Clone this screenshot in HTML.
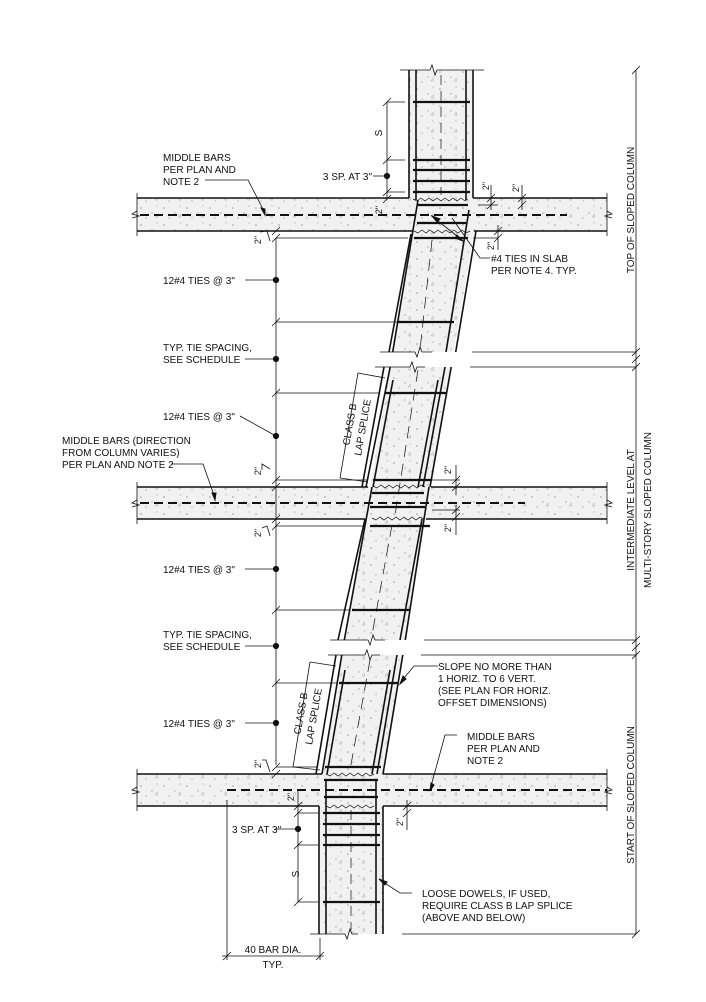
<!DOCTYPE html>
<html><head><meta charset="utf-8"><style>
html,body{margin:0;padding:0;background:#fff}
svg{display:block}
text{font-family:"Liberation Sans",Arial,sans-serif;font-size:10px;fill:#111}
</style></head><body>
<svg width="706" height="1002" viewBox="0 0 706 1002" xmlns="http://www.w3.org/2000/svg">
<defs>
<pattern id="conc" width="23" height="17" patternUnits="userSpaceOnUse">
<rect width="23" height="17" fill="#f1f1f1"/>
<circle cx="3" cy="4" r="0.8" fill="#999"/><circle cx="14" cy="9" r="0.7" fill="#aaa"/>
<circle cx="8" cy="14" r="0.6" fill="#999"/><circle cx="19" cy="2" r="0.6" fill="#aaa"/>
<path d="M17 13 l2 -3 l1 3z" fill="none" stroke="#aaa" stroke-width="0.5"/>
</pattern>
</defs>
<g stroke="#111" fill="none" stroke-width="1">
<!-- slabs -->
<rect x="137" y="198" width="470" height="33" fill="url(#conc)" stroke="none"/>
<rect x="137" y="487" width="470" height="32" fill="url(#conc)" stroke="none"/>
<rect x="137" y="774" width="470" height="32" fill="url(#conc)" stroke="none"/>
<!-- columns fill -->
<rect x="409" y="70" width="64" height="130" fill="url(#conc)" stroke="none"/>
<polygon points="413,231 474,231 453.7,352 392.7,352" fill="url(#conc)" stroke="none"/>
<polygon points="390.2,367 451.2,367 426,519 364.6,519" fill="url(#conc)" stroke="none"/>
<polygon points="364.6,519 425.6,519 405.3,640 344.3,640" fill="url(#conc)" stroke="none"/>
<polygon points="341.8,655 402.8,655 383,774 322,774" fill="url(#conc)" stroke="none"/>
<polygon points="413,198 474,198 474,231 413,231" fill="url(#conc)" stroke="none"/>
<rect x="319" y="774" width="64" height="160" fill="url(#conc)" stroke="none"/>

<!-- slab edges -->
<g stroke-width="1.6">
<line x1="137" y1="198" x2="409" y2="198"/><line x1="473" y1="198" x2="607" y2="198"/>
<line x1="137" y1="231" x2="413" y2="231"/><line x1="474" y1="231" x2="607" y2="231"/>
<line x1="137" y1="487" x2="368" y2="487"/><line x1="431" y1="487" x2="607" y2="487"/>
<line x1="137" y1="519" x2="365" y2="519"/><line x1="426" y1="519" x2="607" y2="519"/>
<line x1="137" y1="774" x2="322" y2="774"/><line x1="383" y1="774" x2="607" y2="774"/>
<line x1="137" y1="806" x2="319" y2="806"/><line x1="383" y1="806" x2="607" y2="806"/>
</g>
<g stroke-width="0.8">
<line x1="137" y1="193" x2="137" y2="236"/><line x1="607" y1="193" x2="607" y2="236"/>
<line x1="137" y1="482" x2="137" y2="524"/><line x1="607" y1="482" x2="607" y2="524"/>
<line x1="137" y1="769" x2="137" y2="811"/><line x1="607" y1="769" x2="607" y2="811"/>
<path d="M137 211 l-5 3 l7 2 l-7 2"/><path d="M607 211 l5 3 l-7 2 l7 2"/>
<path d="M137 500 l-5 3 l7 2 l-7 2"/><path d="M607 500 l5 3 l-7 2 l7 2"/>
<path d="M137 787 l-5 3 l7 2 l-7 2"/><path d="M607 787 l5 3 l-7 2 l7 2"/>
</g>
<!-- dashed middle bars -->
<g stroke-width="2" stroke-dasharray="9,5">
<line x1="140" y1="215" x2="567" y2="215"/>
<line x1="140" y1="503" x2="525" y2="503"/>
<line x1="227" y1="790" x2="607" y2="790"/>
</g>

<!-- top vertical column -->
<g stroke-width="1.6">
<line x1="409" y1="70" x2="409" y2="198"/><line x1="473" y1="70" x2="473" y2="198"/>
<line x1="416" y1="70" x2="416" y2="200"/><line x1="466" y1="70" x2="466" y2="200"/>
</g>
<line x1="400" y1="70" x2="430" y2="70" stroke-width="0.8"/><line x1="443" y1="70" x2="484" y2="70" stroke-width="0.8"/>
<path d="M430 70 l2 -5 l3 10 l2 -5 h6" stroke-width="0.8"/>
<line x1="441" y1="75" x2="441" y2="195" stroke-dasharray="10,6" stroke-width="0.7"/>
<g stroke-width="2.2">
<line x1="413" y1="102" x2="470" y2="102"/>
<line x1="413" y1="160" x2="470" y2="160"/><line x1="413" y1="170" x2="470" y2="170"/>
<line x1="413" y1="181" x2="470" y2="181"/><line x1="413" y1="192" x2="470" y2="192"/>
<line x1="418" y1="205" x2="468" y2="205"/><line x1="417" y1="223" x2="466" y2="223"/>
<line x1="414" y1="238" x2="468" y2="238"/>
</g>
<path d="M413 199 l4 2 l4 -3 l4 3 l4 -3 l4 3 l4 -3 l4 3 l4 -3 l4 3 l4 -3 l4 3 l4 -3 l4 3 l3 -2" stroke-width="0.7"/>
<path d="M414 231 l4 2 l4 -3 l4 3 l4 -3 l4 3 l4 -3 l4 3 l4 -3 l4 3 l4 -3 l4 3 l4 -3 l4 3 l4 -2" stroke-width="0.7"/>

<!-- sloped column lines -->
<g stroke-width="1.6">
<line x1="418" y1="200" x2="392.7" y2="352"/><line x1="476" y1="231" x2="455.7" y2="352"/>
<line x1="411" y1="234" x2="389" y2="352"/><line x1="469" y1="210" x2="446" y2="352"/>
<line x1="390.2" y1="367" x2="366" y2="487"/><line x1="451.2" y1="367" x2="430" y2="487"/>
<line x1="384" y1="367" x2="362" y2="487"/><line x1="445" y1="367" x2="423" y2="487"/>
<line x1="393" y1="380" x2="373" y2="487"/><line x1="438" y1="380" x2="418" y2="487"/>
<line x1="372" y1="487" x2="344.3" y2="640"/><line x1="429" y1="487" x2="405.3" y2="640"/>
<line x1="365" y1="519" x2="338" y2="640"/><line x1="422" y1="519" x2="400" y2="640"/>
<line x1="341.8" y1="655" x2="322" y2="774"/><line x1="402.8" y1="655" x2="383" y2="774"/>
<line x1="336" y1="655" x2="316" y2="774"/><line x1="397" y1="655" x2="377" y2="774"/>
<line x1="345" y1="670" x2="327" y2="774"/><line x1="390" y1="670" x2="372" y2="774"/>
</g>
<g stroke-width="0.7" stroke-dasharray="12,7">
<line x1="432" y1="240" x2="420" y2="350"/><line x1="418" y1="370" x2="395" y2="515"/>
<line x1="392" y1="525" x2="372" y2="635"/><line x1="370" y1="660" x2="350" y2="770"/>
</g>
<g stroke-width="2.2">
<line x1="398" y1="322" x2="454" y2="322"/>
<line x1="385" y1="393" x2="447" y2="393"/>
<line x1="373" y1="480" x2="431" y2="480"/><line x1="372" y1="493" x2="424" y2="493"/>
<line x1="370" y1="507" x2="425" y2="507"/><line x1="370" y1="526" x2="430" y2="526"/>
<line x1="352" y1="610" x2="410" y2="610"/>
<line x1="339" y1="683" x2="398" y2="683"/>
<line x1="325" y1="767" x2="381" y2="767"/><line x1="324" y1="780" x2="378" y2="780"/>
<line x1="324" y1="797" x2="378" y2="797"/>
</g>
<path d="M373 486 l4 2 l4 -3 l4 3 l4 -3 l4 3 l4 -3 l4 3 l4 -3 l4 3 l4 -3 l4 3 l4 -3 l4 2" stroke-width="0.7"/>
<path d="M372 518 l4 2 l4 -3 l4 3 l4 -3 l4 3 l4 -3 l4 3 l4 -3 l4 3 l4 -3 l4 3 l4 -3 l4 2" stroke-width="0.7"/>
<path d="M326 774 l4 2 l4 -3 l4 3 l4 -3 l4 3 l4 -3 l4 3 l4 -3 l4 3 l4 -3 l4 3 l4 -2" stroke-width="0.7"/>
<path d="M326 806 l4 2 l4 -3 l4 3 l4 -3 l4 3 l4 -3 l4 3 l4 -3 l4 3 l4 -3 l4 3 l4 -2" stroke-width="0.7"/>

<!-- breaks -->
<g stroke-width="0.8">
<line x1="380" y1="352" x2="415" y2="352"/><path d="M415 352 l2 5 l3 -10 l2 5 h10"/><line x1="472" y1="352" x2="636" y2="352"/>
<line x1="375" y1="367" x2="410" y2="367"/><path d="M410 367 l2 -5 l3 10 l2 -5 h8"/><line x1="470" y1="367" x2="636" y2="367"/>
<line x1="330" y1="640" x2="368" y2="640"/><path d="M368 640 l2 5 l3 -10 l2 5 h10"/><line x1="424" y1="640" x2="636" y2="640"/>
<line x1="328" y1="655" x2="365" y2="655"/><path d="M365 655 l2 -5 l3 10 l2 -5 h8"/><line x1="421" y1="655" x2="636" y2="655"/>
<line x1="310" y1="934" x2="345" y2="934"/><path d="M345 934 l2 5 l3 -10 l2 5 h6"/><line x1="402" y1="934" x2="636" y2="934"/>
</g>

<!-- bottom vertical column -->
<g stroke-width="1.6">
<line x1="319" y1="806" x2="319" y2="934"/><line x1="383" y1="806" x2="383" y2="934"/>
<line x1="326" y1="780" x2="326" y2="934"/><line x1="376" y1="780" x2="376" y2="934"/>
</g>
<line x1="351" y1="810" x2="351" y2="930" stroke-dasharray="10,6" stroke-width="0.7"/>
<g stroke-width="2.2">
<line x1="323" y1="813" x2="380" y2="813"/><line x1="323" y1="824" x2="380" y2="824"/>
<line x1="323" y1="835" x2="380" y2="835"/><line x1="323" y1="845" x2="380" y2="845"/>
<line x1="323" y1="902" x2="380" y2="902"/>
</g>

<!-- right dimension -->
<line x1="636" y1="70" x2="636" y2="934" stroke-width="0.8"/>
<g stroke-width="0.8">
<line x1="632" y1="74" x2="640" y2="66"/><line x1="632" y1="356" x2="640" y2="348"/>
<line x1="632" y1="371" x2="640" y2="363"/><line x1="632" y1="644" x2="640" y2="636"/>
<line x1="632" y1="659" x2="640" y2="651"/><line x1="632" y1="938" x2="640" y2="930"/>
<line x1="632" y1="363" x2="640" y2="355"/><line x1="632" y1="651" x2="640" y2="643"/>
</g>

<!-- left dimension -->
<line x1="276" y1="238" x2="276" y2="765" stroke-width="0.8"/>
<g stroke-width="0.8">
<line x1="276" y1="238" x2="408" y2="238"/><line x1="276" y1="322" x2="398" y2="322"/>
<line x1="276" y1="393" x2="380" y2="393"/><line x1="276" y1="480" x2="368" y2="480"/>
<line x1="276" y1="526" x2="365" y2="526"/><line x1="276" y1="610" x2="350" y2="610"/>
<line x1="276" y1="683" x2="338" y2="683"/><line x1="276" y1="767" x2="318" y2="767"/>
<line x1="272" y1="242" x2="280" y2="234"/><line x1="272" y1="235" x2="280" y2="227"/>
<line x1="272" y1="326" x2="280" y2="318"/><line x1="272" y1="397" x2="280" y2="389"/>
<line x1="272" y1="484" x2="280" y2="476"/><line x1="272" y1="491" x2="280" y2="483"/>
<line x1="272" y1="523" x2="280" y2="515"/><line x1="272" y1="530" x2="280" y2="522"/>
<line x1="272" y1="614" x2="280" y2="606"/><line x1="272" y1="687" x2="280" y2="679"/>
<line x1="272" y1="771" x2="280" y2="763"/><line x1="272" y1="778" x2="280" y2="770"/>
<path d="M260 232 l7 -1 l3 10"/><path d="M262 528 l5 -2 l3 10"/><path d="M262 470 l0 -6 l8 5"/>
<path d="M262 760 l4 0 l4 12"/>
<!-- top column dim -->
<line x1="387" y1="102" x2="387" y2="198"/>
<line x1="387" y1="102" x2="405" y2="102"/><line x1="387" y1="160" x2="405" y2="160"/><line x1="387" y1="192" x2="405" y2="192"/>
<line x1="383" y1="106" x2="391" y2="98"/><line x1="383" y1="164" x2="391" y2="156"/>
<line x1="383" y1="196" x2="391" y2="188"/><line x1="383" y1="203" x2="391" y2="195"/>
<!-- top right small dims -->
<line x1="478" y1="198" x2="498" y2="198"/><line x1="478" y1="205" x2="498" y2="205"/>
<line x1="491" y1="185" x2="491" y2="210"/><line x1="487" y1="202" x2="495" y2="194"/><line x1="487" y1="209" x2="495" y2="201"/>
<line x1="522" y1="185" x2="522" y2="210"/><line x1="518" y1="202" x2="526" y2="194"/><line x1="518" y1="209" x2="526" y2="201"/>
<line x1="473" y1="238" x2="498" y2="238"/><line x1="498" y1="225" x2="498" y2="250"/>
<line x1="494" y1="235" x2="502" y2="227"/><line x1="494" y1="242" x2="502" y2="234"/>
<!-- mid right small dims -->
<line x1="430" y1="480" x2="460" y2="480"/><line x1="456" y1="465" x2="456" y2="495"/>
<line x1="452" y1="484" x2="460" y2="476"/><line x1="452" y1="491" x2="460" y2="483"/>
<line x1="432" y1="510" x2="460" y2="510"/><line x1="456" y1="505" x2="456" y2="535"/>
<line x1="452" y1="514" x2="460" y2="506"/><line x1="452" y1="521" x2="460" y2="513"/>
<!-- bottom dims -->
<line x1="298" y1="790" x2="298" y2="902"/>
<line x1="298" y1="813" x2="318" y2="813"/><line x1="298" y1="845" x2="318" y2="845"/><line x1="298" y1="902" x2="318" y2="902"/>
<line x1="294" y1="810" x2="302" y2="802"/><line x1="294" y1="817" x2="302" y2="809"/>
<line x1="294" y1="849" x2="302" y2="841"/><line x1="294" y1="906" x2="302" y2="898"/>
<line x1="407" y1="800" x2="407" y2="830"/><line x1="403" y1="810" x2="411" y2="802"/><line x1="403" y1="817" x2="411" y2="809"/>
<line x1="227" y1="800" x2="227" y2="960"/><line x1="320" y1="938" x2="320" y2="960"/>
<line x1="222" y1="956" x2="324" y2="956"/>
<line x1="223" y1="960" x2="231" y2="952"/><line x1="316" y1="960" x2="324" y2="952"/>
<!-- lap splice dims -->
<line x1="358" y1="373" x2="340" y2="478"/><line x1="358" y1="373" x2="385" y2="378"/><line x1="340" y1="478" x2="368" y2="482"/>
<line x1="310" y1="662" x2="293" y2="767"/><line x1="310" y1="662" x2="336" y2="666"/><line x1="293" y1="767" x2="320" y2="770"/>
<!-- leaders -->
<polyline points="205,180 248,180 265,213"/>
<polyline points="452,218 480,258 490,258"/>
<line x1="433" y1="217" x2="462" y2="240"/>
<polyline points="171,464 203,464 215,498"/>
<polyline points="245,280 276,280"/><polyline points="245,359 276,359"/><polyline points="240,416 276,436"/>
<polyline points="245,569 276,569"/><polyline points="245,646 276,646"/><polyline points="245,723 276,723"/>
<polyline points="373,176 387,176"/>
<polyline points="275,829 298,829"/>
<polyline points="438,666 414,666 400,683"/>
<polyline points="457,735 445,735 430,790"/>
<polyline points="412,893 400,893 380,880"/>
</g>
<g fill="#111">
<circle cx="387" cy="176" r="2.6"/><circle cx="276" cy="280" r="2.6"/><circle cx="276" cy="359" r="2.6"/>
<circle cx="276" cy="436" r="2.6"/><circle cx="276" cy="569" r="2.6"/><circle cx="276" cy="646" r="2.6"/>
<circle cx="276" cy="723" r="2.6"/><circle cx="298" cy="829" r="2.6"/>
<path d="M265 215 l-4 -7 l4 1z"/><path d="M215 500 l-3 -7 l4 0z"/><path d="M430 791 l1 -8 l3 2z"/>
<path d="M400 684 l3 -8 l3 3z"/><path d="M379 879 l8 3 l-2 3z"/><path d="M463 241 l-8 -3 l2 -3z"/><path d="M432 216 l8 3 l-3 3z"/>
</g>
</g>

<!-- text -->
<text x="163" y="161">MIDDLE BARS</text><text x="163" y="173">PER PLAN AND</text><text x="163" y="185">NOTE 2</text>
<text x="372" y="180" text-anchor="end">3 SP. AT 3"</text>
<text x="379" y="136" transform="rotate(-90 379 133)" text-anchor="middle">S</text>
<text x="491" y="262">#4 TIES IN SLAB</text><text x="491" y="274">PER NOTE 4. TYP.</text>
<text x="163" y="284">12#4 TIES @ 3"</text>
<text x="163" y="351">TYP. TIE SPACING,</text><text x="163" y="363">SEE SCHEDULE</text>
<text x="163" y="420">12#4 TIES @ 3"</text>
<text x="62" y="444">MIDDLE BARS (DIRECTION</text><text x="62" y="456">FROM COLUMN VARIES)</text><text x="62" y="468">PER PLAN AND NOTE 2</text>
<text x="163" y="573">12#4 TIES @ 3"</text>
<text x="163" y="638">TYP. TIE SPACING,</text><text x="163" y="650">SEE SCHEDULE</text>
<text x="163" y="727">12#4 TIES @ 3"</text>
<text x="438" y="670">SLOPE NO MORE THAN</text><text x="438" y="682">1 HORIZ. TO 6 VERT.</text>
<text x="438" y="694">(SEE PLAN FOR HORIZ.</text><text x="438" y="706">OFFSET DIMENSIONS)</text>
<text x="467" y="740">MIDDLE BARS</text><text x="467" y="752">PER PLAN AND</text><text x="467" y="764">NOTE 2</text>
<text x="232" y="833">3 SP. AT 3"</text>
<text x="296" y="877" transform="rotate(-90 296 874)" text-anchor="middle">S</text>
<text x="422" y="897">LOOSE DOWELS, IF USED,</text><text x="422" y="909">REQUIRE CLASS B LAP SPLICE</text><text x="422" y="921">(ABOVE AND BELOW)</text>
<text x="273" y="953" text-anchor="middle">40 BAR DIA.</text><text x="273" y="968" text-anchor="middle">TYP.</text>
<text transform="translate(353,425) rotate(-80)" text-anchor="middle">CLASS B</text>
<text transform="translate(366,428) rotate(-80)" text-anchor="middle">LAP SPLICE</text>
<text transform="translate(304,714) rotate(-80)" text-anchor="middle">CLASS B</text>
<text transform="translate(317,717) rotate(-80)" text-anchor="middle">LAP SPLICE</text>
<g font-size="9">
<text transform="translate(382,210) rotate(-90)" text-anchor="middle" style="font-size:9px">2"</text>
<text transform="translate(489,186) rotate(-90)" text-anchor="middle" style="font-size:9px">2"</text>
<text transform="translate(519,188) rotate(-90)" text-anchor="middle" style="font-size:9px">2"</text>
<text transform="translate(494,246) rotate(-90)" text-anchor="middle" style="font-size:9px">2"</text>
<text transform="translate(261,240) rotate(-90)" text-anchor="middle" style="font-size:9px">2"</text>
<text transform="translate(261,471) rotate(-90)" text-anchor="middle" style="font-size:9px">2"</text>
<text transform="translate(261,533) rotate(-90)" text-anchor="middle" style="font-size:9px">2"</text>
<text transform="translate(451,470) rotate(-90)" text-anchor="middle" style="font-size:9px">2"</text>
<text transform="translate(451,528) rotate(-90)" text-anchor="middle" style="font-size:9px">2"</text>
<text transform="translate(261,764) rotate(-90)" text-anchor="middle" style="font-size:9px">2"</text>
<text transform="translate(294,797) rotate(-90)" text-anchor="middle" style="font-size:9px">2"</text>
<text transform="translate(403,822) rotate(-90)" text-anchor="middle" style="font-size:9px">2"</text>
</g>
<text transform="translate(634,210) rotate(-90)" text-anchor="middle">TOP OF SLOPED COLUMN</text>
<text transform="translate(634,510) rotate(-90)" text-anchor="middle">INTERMEDIATE LEVEL AT</text>
<text transform="translate(651,510) rotate(-90)" text-anchor="middle">MULTI-STORY SLOPED COLUMN</text>
<text transform="translate(634,795) rotate(-90)" text-anchor="middle">START OF SLOPED COLUMN</text>
</svg>
</body></html>
